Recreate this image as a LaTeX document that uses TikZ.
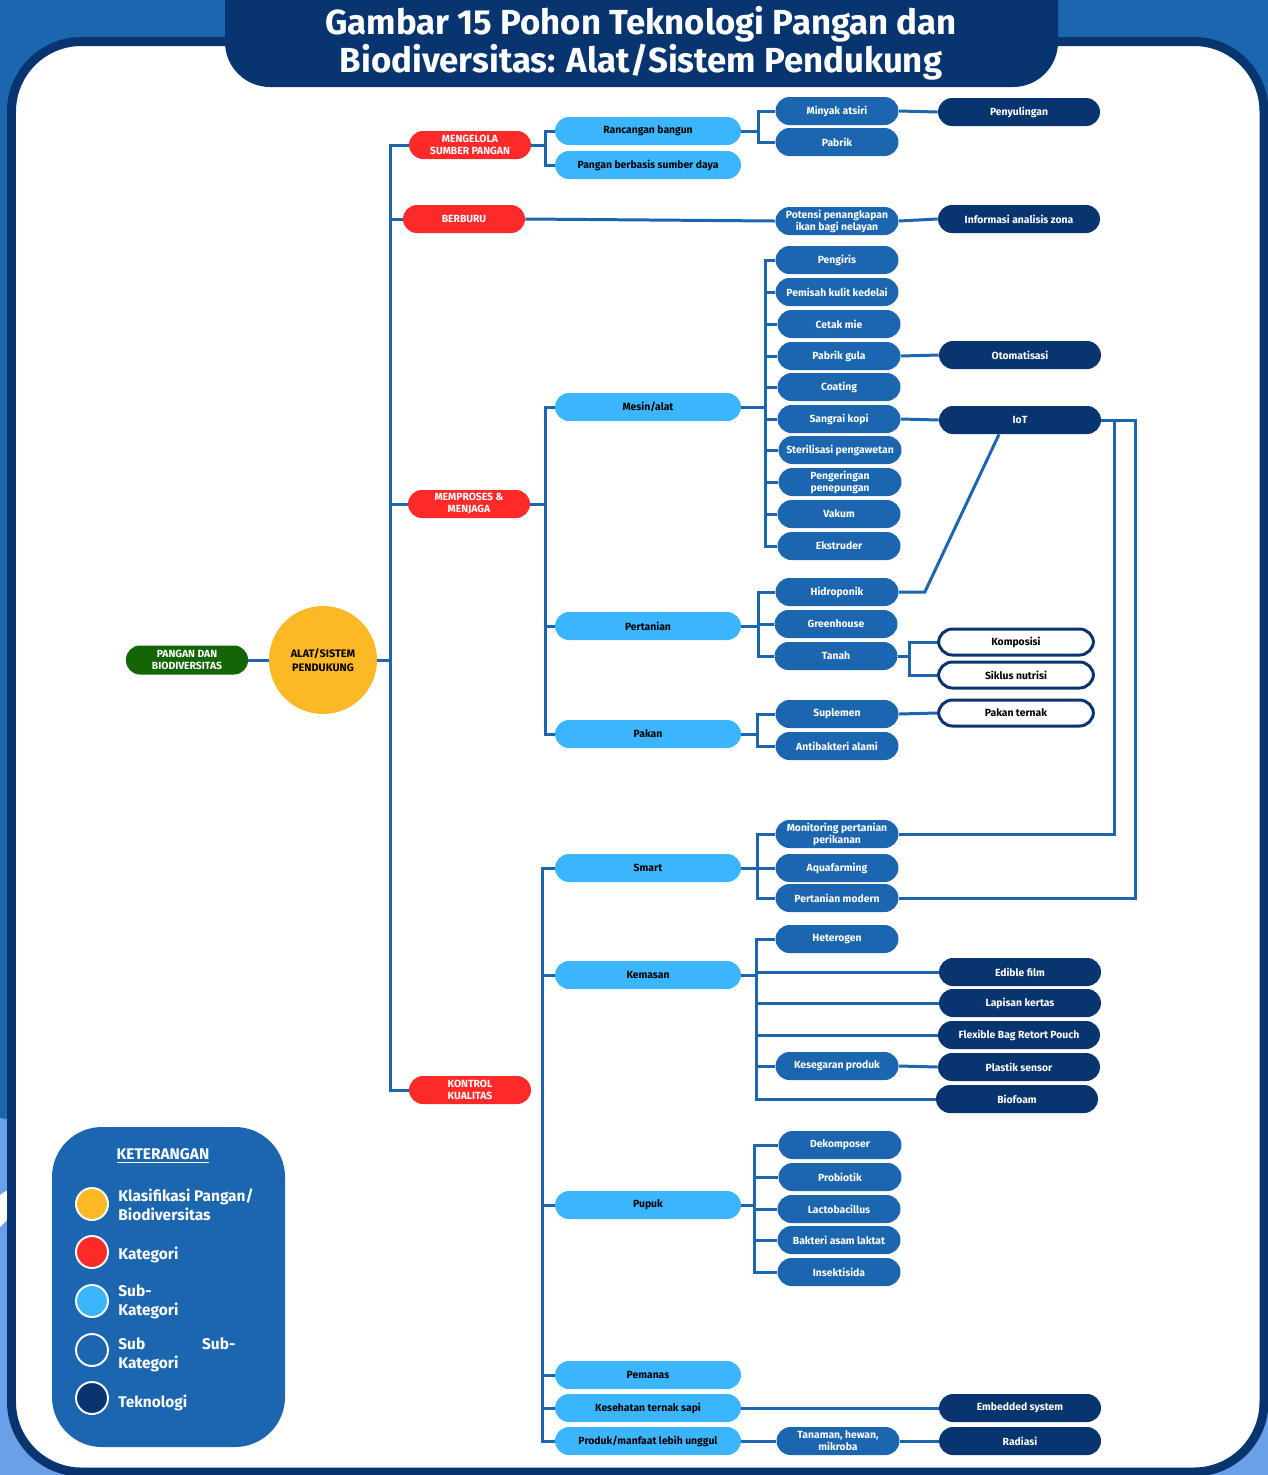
\documentclass[tikz,border=0pt]{standalone}
\usepackage{fontspec}
\setmainfont{Fira Sans}
\usetikzlibrary{positioning, calc}
\definecolor{navy}{HTML}{08356F}
\definecolor{midblue}{HTML}{1C66B0}
\definecolor{subblue}{HTML}{3BB6FE}
\definecolor{katred}{HTML}{FE2A2A}
\definecolor{kuning}{HTML}{FDB825}
\definecolor{hijau}{HTML}{146506}
\definecolor{mudablue}{HTML}{6AA0E8}
\tikzset{
	link/.style={draw=midblue, line width=1.7pt},
	pill/.style={rounded corners=0.28cm, minimum height=0.56cm, inner sep=1pt, align=center, font=\fontsize{5.9}{6.9}\selectfont\bfseries},
	katbox/.style={pill, fill=katred, text=white, minimum width=2.44cm},
	hijaubox/.style={pill, fill=hijau, text=white, minimum width=2.44cm, minimum height=0.58cm},
	subbox/.style={pill, fill=subblue, text=black, minimum width=3.72cm},
	isibox/.style={pill, fill=midblue, text=white, minimum width=2.46cm},
	teknobox/.style={pill, fill=navy, text=white, minimum width=3.24cm},
	garisbox/.style={pill, draw=navy, line width=1.7pt, fill=white, text=black, minimum width=3.1cm, minimum height=0.52cm},
	bulatbox/.style={circle, fill=kuning, minimum size=2.16cm, inner sep=0pt, align=center, font=\fontsize{6.2}{7.6}\selectfont\bfseries},
	legbulat/.style={circle, draw=white, line width=1.1pt, minimum size=0.64cm, inner sep=0pt},
	legteks/.style={anchor=west, inner sep=0pt, text=white, align=left, font=\fontsize{8.8}{10.8}\selectfont\bfseries},
	judul/.style={text=white, align=center, font=\fontsize{19.8}{21.7}\selectfont\bfseries}
}

\begin{document}
\begin{tikzpicture}[x=0.02cm, y=-0.02cm]
	\useasboundingbox (0,0) rectangle (1268,1475);
	\fill[midblue] (0,0) rectangle (1268,1475);
	\fill[mudablue] (0,1118) -- (0,1475) -- (1268,1475) -- (1268,1330) -- cycle;
	\fill[white] (0,1195) -- (9,1189) -- (9,1218) -- (0,1227) -- cycle;
	\draw[navy, line width=0.18cm, fill=white, rounded corners=1.4cm] (11.5,41.5) rectangle (1264,1472);
	\fill[navy, rounded corners=0.9cm] (225,-60) rectangle (1058,87);
	\node[judul] (judul) at (641,43) {Gambar 15 Pohon Teknologi Pangan dan\\Biodiversitas: Alat/Sistem Pendukung};

	\node[hijaubox] (pangan) at (187,660) {PANGAN DAN\\BIODIVERSITAS};
	\node[bulatbox] (alat) at (323,660) {ALAT/SISTEM\\PENDUKUNG};

	\node[katbox] (mengelola) at (470,145) {MENGELOLA\\SUMBER PANGAN};
	\node[katbox] (berburu) at (464,219) {BERBURU};
	\node[katbox] (memproses) at (469,504) {MEMPROSES \&\\MENJAGA};
	\node[katbox] (kontrol) at (470,1090) {KONTROL\\KUALITAS};

	\node[subbox] (rancangan) at (648,131) {Rancangan bangun};
	\node[subbox] (berbasis) at (648,165) {Pangan berbasis sumber daya};
	\node[subbox] (mesin) at (648,407) {Mesin/alat};
	\node[subbox] (pertanian) at (648,626) {Pertanian};
	\node[subbox] (pakan) at (648,734) {Pakan};
	\node[subbox] (smart) at (648,868) {Smart};
	\node[subbox] (kemasan) at (648,975) {Kemasan};
	\node[subbox] (pupuk) at (648,1205) {Pupuk};
	\node[subbox] (pemanas) at (648,1375) {Pemanas};
	\node[subbox] (kesehatan) at (648,1408) {Kesehatan ternak sapi};
	\node[subbox] (produk) at (648,1441) {Produk/manfaat lebih unggul};

	\node[isibox] (minyak) at (837,111) {Minyak atsiri};
	\node[isibox] (pabrik) at (837,142) {Pabrik};
	\node[isibox] (potensi) at (837,221) {Potensi penangkapan\\ikan bagi nelayan};
	\node[isibox] (pengiris) at (837,260) {Pengiris};
	\node[isibox] (pemisah) at (837,292) {Pemisah kulit kedelai};
	\node[isibox] (cetak) at (839,324) {Cetak mie};
	\node[isibox] (pabrikgula) at (839,356) {Pabrik gula};
	\node[isibox] (coating) at (839,387) {Coating};
	\node[isibox] (sangrai) at (839,419) {Sangrai kopi};
	\node[isibox] (sterilisasi) at (840,450) {Sterilisasi pengawetan};
	\node[isibox] (pengeringan) at (840,482) {Pengeringan\\penepungan};
	\node[isibox] (vakum) at (839,514) {Vakum};
	\node[isibox] (ekstruder) at (839,546) {Ekstruder};
	\node[isibox] (hidroponik) at (837,592) {Hidroponik};
	\node[isibox] (greenhouse) at (836,624) {Greenhouse};
	\node[isibox] (tanah) at (836,656) {Tanah};
	\node[isibox] (suplemen) at (837,714) {Suplemen};
	\node[isibox] (antibakteri) at (837,746) {Antibakteri alami};
	\node[isibox] (monitoring) at (837,834) {Monitoring pertanian\\perikanan};
	\node[isibox] (aquafarming) at (837,868) {Aquafarming};
	\node[isibox] (modern) at (837,898) {Pertanian modern};
	\node[isibox] (heterogen) at (837,939) {Heterogen};
	\node[isibox] (kesegaran) at (837,1066) {Kesegaran produk};
	\node[isibox] (dekomposer) at (840,1145) {Dekomposer};
	\node[isibox] (probiotik) at (840,1177) {Probiotik};
	\node[isibox] (lactobacillus) at (839,1209) {Lactobacillus};
	\node[isibox] (bakteri) at (839,1240) {Bakteri asam laktat};
	\node[isibox] (insektisida) at (839,1272) {Insektisida};
	\node[isibox] (tanaman) at (838,1441) {Tanaman, hewan,\\mikroba};

	\node[teknobox] (penyulingan) at (1019,112) {Penyulingan};
	\node[teknobox] (informasi) at (1019,219) {Informasi analisis zona};
	\node[teknobox] (otomatisasi) at (1020,355) {Otomatisasi};
	\node[teknobox] (iot) at (1020,420) {IoT};
	\node[teknobox] (edible) at (1020,972) {Edible film};
	\node[teknobox] (lapisan) at (1020,1003) {Lapisan kertas};
	\node[teknobox] (flexible) at (1019,1035) {Flexible Bag Retort Pouch};
	\node[teknobox] (plastik) at (1019,1067) {Plastik sensor};
	\node[teknobox] (biofoam) at (1017,1099) {Biofoam};
	\node[teknobox] (embedded) at (1020,1408) {Embedded system};
	\node[teknobox] (radiasi) at (1020,1441) {Radiasi};

	\node[garisbox] (komposisi) at (1016,642) {Komposisi};
	\node[garisbox] (siklus) at (1016,675) {Siklus nutrisi};
	\node[garisbox] (pakanternak) at (1016,713) {Pakan ternak};

	\draw[link] (pangan.east) -- (alat.west);
	\draw[link] (alat.east) -- ++(13,0) |- (mengelola.west);
	\draw[link] (alat.east) -- ++(13,0) |- (berburu.west);
	\draw[link] (alat.east) -- ++(13,0) |- (memproses.west);
	\draw[link] (alat.east) -- ++(13,0) |- (kontrol.west);

	\draw[link] (mengelola.east) -- ++(14,0) |- (rancangan.west);
	\draw[link] (mengelola.east) -- ++(14,0) |- (berbasis.west);
	\draw[link] (rancangan.east) -- ++(17,0) |- (minyak.west);
	\draw[link] (rancangan.east) -- ++(17,0) |- (pabrik.west);
	\draw[link] (minyak.east) -- (penyulingan.west);
	\draw[link] (berburu.east) -- (potensi.west);
	\draw[link] (potensi.east) -- (informasi.west);

	\draw[link] (memproses.east) -- ++(15,0) |- (mesin.west);
	\draw[link] (memproses.east) -- ++(15,0) |- (pertanian.west);
	\draw[link] (memproses.east) -- ++(15,0) |- (pakan.west);
	\draw[link] (mesin.east) -- ++(24,0) |- (pengiris.west);
	\draw[link] (mesin.east) -- ++(24,0) |- (pemisah.west);
	\draw[link] (mesin.east) -- ++(24,0) |- (cetak.west);
	\draw[link] (mesin.east) -- ++(24,0) |- (pabrikgula.west);
	\draw[link] (mesin.east) -- ++(24,0) |- (coating.west);
	\draw[link] (mesin.east) -- ++(24,0) |- (sangrai.west);
	\draw[link] (mesin.east) -- ++(24,0) |- (sterilisasi.west);
	\draw[link] (mesin.east) -- ++(24,0) |- (pengeringan.west);
	\draw[link] (mesin.east) -- ++(24,0) |- (vakum.west);
	\draw[link] (mesin.east) -- ++(24,0) |- (ekstruder.west);
	\draw[link] (pabrikgula.east) -- (otomatisasi.west);
	\draw[link] (sangrai.east) -- (iot.west);
	\draw[link] (pertanian.east) -- ++(17,0) |- (hidroponik.west);
	\draw[link] (pertanian.east) -- ++(17,0) |- (greenhouse.west);
	\draw[link] (pertanian.east) -- ++(17,0) |- (tanah.west);
	\draw[link] (hidroponik.east) -- ++(26,0) -- ($(iot.south)+(-21,0)$);
	\draw[link] (tanah.east) -- ++(12,0) |- (komposisi.west);
	\draw[link] (tanah.east) -- ++(12,0) |- (siklus.west);
	\draw[link] (pakan.east) -- ++(16,0) |- (suplemen.west);
	\draw[link] (pakan.east) -- ++(16,0) |- (antibakteri.west);
	\draw[link] (suplemen.east) -- (pakanternak.west);

	\coordinate (kontrolcabang) at ($(kontrol.east)+(11,0)$);
	\draw[link] (kontrolcabang) |- (smart.west);
	\draw[link] (kontrolcabang) |- (kemasan.west);
	\draw[link] (kontrolcabang) |- (pupuk.west);
	\draw[link] (kontrolcabang) |- (pemanas.west);
	\draw[link] (kontrolcabang) |- (kesehatan.west);
	\draw[link] (kontrolcabang) |- (produk.west);
	\draw[link] (smart.east) -- ++(16,0) |- (monitoring.west);
	\draw[link] (smart.east) -- ++(16,0) |- (aquafarming.west);
	\draw[link] (smart.east) -- ++(16,0) |- (modern.west);
	\draw[link] (iot.east) -- ++(13,0) |- (monitoring.east);
	\draw[link] (iot.east) -- ++(34,0) |- (modern.east);
	\draw[link] (kemasan.east) -- ++(15,0) |- (heterogen.west);
	\draw[link] (kemasan.east) -- ++(15,0) |- (edible.west);
	\draw[link] (kemasan.east) -- ++(15,0) |- (lapisan.west);
	\draw[link] (kemasan.east) -- ++(15,0) |- (flexible.west);
	\draw[link] (kemasan.east) -- ++(15,0) |- (kesegaran.west);
	\draw[link] (kemasan.east) -- ++(15,0) |- (biofoam.west);
	\draw[link] (kesegaran.east) -- (plastik.west);
	\draw[link] (pupuk.east) -- ++(13,0) |- (dekomposer.west);
	\draw[link] (pupuk.east) -- ++(13,0) |- (probiotik.west);
	\draw[link] (pupuk.east) -- ++(13,0) |- (lactobacillus.west);
	\draw[link] (pupuk.east) -- ++(13,0) |- (bakteri.west);
	\draw[link] (pupuk.east) -- ++(13,0) |- (insektisida.west);
	\draw[link] (kesehatan.east) -- (embedded.west);
	\draw[link] (produk.east) -- (tanaman.west);
	\draw[link] (tanaman.east) -- (radiasi.west);

	\fill[midblue, rounded corners=1cm] (52,1127) rectangle (285,1447);
	\node[legteks, anchor=center] (keterangan) at (163,1156) {\underline{KETERANGAN}};
	\node[legbulat, fill=kuning] (lkuning) at (92,1204) {};
	\node[legbulat, fill=katred] (lmerah) at (92,1252) {};
	\node[legbulat, fill=subblue] (lsub) at (92,1301) {};
	\node[legbulat, fill=midblue] (lsubsub) at (92,1350) {};
	\node[legbulat, fill=navy] (lnavy) at (92,1398) {};
	\node[legteks] (tkuning) at (118,1205) {Klasifikasi Pangan/\\Biodiversitas};
	\node[legteks] (tmerah) at (118,1255) {Kategori};
	\node[legteks] (tsub) at (118,1302) {Sub-\\Kategori};
	\node[legteks] (tsubsub) at (118,1355) {\makebox[2.34cm][l]{Sub\hfill Sub-}\\Kategori};
	\node[legteks] (tnavy) at (118,1403) {Teknologi};
\end{tikzpicture}
\end{document}
